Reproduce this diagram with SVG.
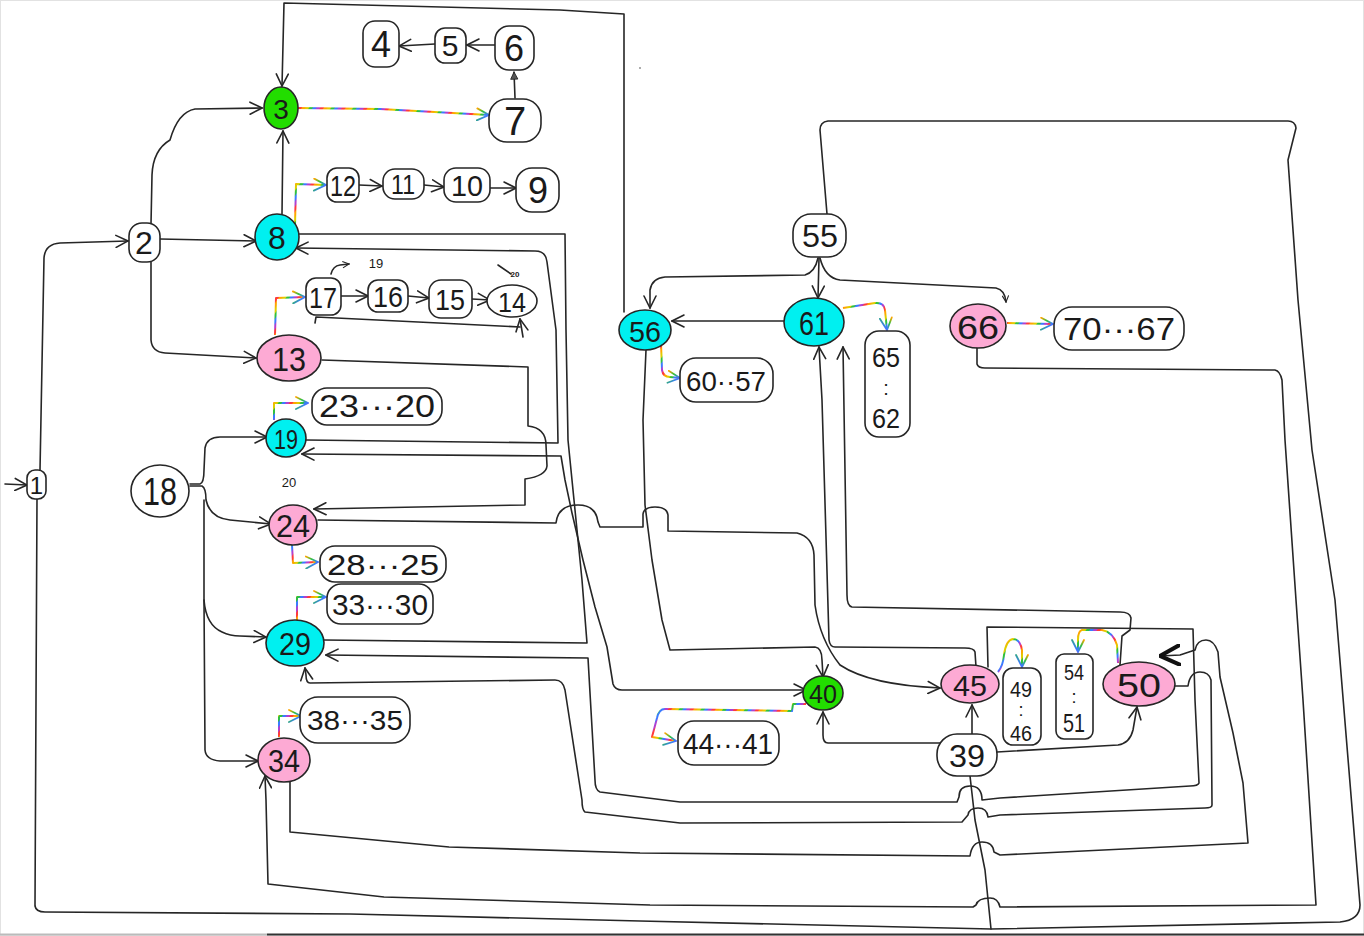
<svg xmlns="http://www.w3.org/2000/svg" width="1364" height="936" viewBox="0 0 1364 936">
<defs>
<style>
.c{fill:none;stroke:#262626;stroke-width:1.6;stroke-linejoin:round;stroke-linecap:round}
.a{marker-end:url(#ar)}
.ab{marker-start:url(#ar);marker-end:url(#ar)}
.rb{fill:none;stroke:url(#rain);stroke-width:2;stroke-linejoin:round;marker-end:url(#arr)}
.n{fill:#fff;stroke:#262626;stroke-width:1.6}
.g{fill:#22dd00}
.cy{fill:#00f0f0}
.pk{fill:#fdaad4}
text{font-family:"Liberation Sans",Arial,sans-serif;fill:#1a1a1a;text-anchor:middle;dominant-baseline:central}
</style>
<pattern id="rain" patternUnits="userSpaceOnUse" width="18" height="18" patternTransform="rotate(35)">
<rect x="0" y="0" width="3" height="18" fill="#ff3b3b"/><rect x="3" y="0" width="3" height="18" fill="#ffa500"/><rect x="6" y="0" width="3" height="18" fill="#e0cc00"/><rect x="9" y="0" width="3" height="18" fill="#2fc040"/><rect x="12" y="0" width="3" height="18" fill="#3a7bff"/><rect x="15" y="0" width="3" height="18" fill="#b040d0"/>
</pattern>
<linearGradient id="rg" x1="0" y1="0" x2="1" y2="1">
<stop offset="0" stop-color="#ffa500"/><stop offset="0.35" stop-color="#2fc040"/><stop offset="0.7" stop-color="#3a7bff"/><stop offset="1" stop-color="#b040d0"/>
</linearGradient>
<marker id="ar" viewBox="0 0 14 14" refX="13" refY="7" markerWidth="14" markerHeight="14" markerUnits="userSpaceOnUse" orient="auto-start-reverse"><path d="M1,1 L13,7 L1,13" fill="none" stroke="#262626" stroke-width="1.6" stroke-linecap="round"/></marker>
<marker id="arr" viewBox="0 0 14 14" refX="13" refY="7" markerWidth="14" markerHeight="14" markerUnits="userSpaceOnUse" orient="auto"><path d="M1,1 L13,7 L1,13" fill="none" stroke="url(#rg)" stroke-width="1.8" stroke-linecap="round"/></marker>
<marker id="arf" viewBox="0 0 10 10" refX="9" refY="5" markerWidth="9" markerHeight="9" markerUnits="userSpaceOnUse" orient="auto"><path d="M1,1 L9,5 L1,9 Z" fill="#555" stroke="#262626" stroke-width="1"/></marker>
<marker id="arb" viewBox="0 0 16 16" refX="15" refY="8" markerWidth="22" markerHeight="22" markerUnits="userSpaceOnUse" orient="auto"><path d="M1,1 L15,8 L1,15" fill="none" stroke="#111" stroke-width="3" stroke-linecap="round"/></marker>
<marker id="ars" viewBox="0 0 10 10" refX="9" refY="5" markerWidth="8" markerHeight="8" markerUnits="userSpaceOnUse" orient="auto"><path d="M1,1 L9,5 L1,9" fill="none" stroke="#262626" stroke-width="1.4"/></marker>
</defs>
<rect x="0.5" y="0.5" width="1363" height="935" fill="#fff" stroke="#e2e2e2"/>
<line x1="267" y1="934.5" x2="1364" y2="934.5" stroke="#333" stroke-width="2"/>
<line x1="0" y1="934.5" x2="267" y2="934.5" stroke="#bbb" stroke-width="2"/>

<g id="connectors">
<path class="c a" d="M5,484 L27,485"/>
<path class="c a" d="M40,470 L44,258 Q45,244 60,243 L128,241"/>
<path class="c" d="M37,498 L35,906 Q36,912 45,912 L350,914 L640,921 L991,929 L1340,922 Q1360,920 1360,905 L1335,600 L1312,450 L1298,300 L1288,160 L1296,128 Q1295,121 1288,121 L828,121 Q820,122 820,130 L827,214"/>
<path class="c a" d="M151,224 L152,175 Q153,150 170,140 Q178,112 195,109 L262,108"/>
<path class="c a" d="M160,239 L256,241"/>
<path class="c a" d="M151,262 L151,340 Q152,352 165,353 L256,358"/>
<path class="c a" d="M282,214 L283,131"/>
<path class="c a" d="M624,312 L624,14 L560,10 L284,3 L282,86"/>
<path class="rb" d="M297,108 L380,109 L489,115"/>
<path class="c" d="M515,98 L514,72" marker-end="url(#arf)"/>
<path class="c a" d="M497,45 L467,45"/>
<path class="c a" d="M435,44 L399,46"/>
<path class="rb" d="M295,225 L296,184 L326,185"/>
<path class="c a" d="M359,185 L382,186"/>
<path class="c a" d="M424,185 L444,187"/>
<path class="c a" d="M490,188 L516,188"/>
<path class="rb" d="M275,335 L276,298 L305,297"/>
<path class="c a" d="M341,296 L368,296"/>
<path class="c a" d="M408,296 L429,298"/>
<path class="c a" d="M472,299 L490,300"/>
<path class="c" d="M315,323 L316,317 L520,327"/>
<path class="c a" d="M523,337 L520,319"/>
<path class="c" d="M331,274 Q333,266 340,265 L349,264" marker-end="url(#ars)"/>
<path class="c" d="M498,265 L511,274"/>
<path class="c" d="M298,234 L565,234 L566,330 L568,440 L575,510 L582,580 L587,643 L324,640"/>
<path class="c a" d="M306,440 L558,443 L556,330 L547,262 Q546,251 535,251 L296,248"/>
<path class="c ab" d="M302,454 L561,456 L565,480 L572,513 L583,560 L595,607 L607,647 L613,684 Q615,690 622,690 L806,690"/>
<path class="c a" d="M322,360 L528,367 L528,426 Q546,428 546,445 L547,466 Q546,476 525,479 L525,505 L314,509"/>
<path class="c a" d="M318,520 L556,523 Q558,505 578,505 Q596,505 598,522 L600,527 L643,527 L643,514 Q644,507 655,507 Q667,507 668,515 L668,531 L797,533 Q813,537 814,555 L815,605 Q820,640 840,665 Q870,685 940,688"/>
<path class="c a" d="M646,350 L643,420 L645,505 L652,560 L662,620 L670,650 L815,647 Q822,648 822,660 L823,677"/>
<path class="c a" d="M976,667 L975,652 Q974,648 965,648 L835,647 Q830,647 829,640 L822,400 L819,347"/>
<path class="c a" d="M1120,665 L1122,636 L1130,630 L1131,618 Q1130,612 1120,612 L852,607 Q847,606 847,595 L843,347"/>
<path class="c a" d="M988,667 L987,627 L1193,629 L1195,700 L1199,783 Q1198,786 1190,786 L1000,798 L982,800 Q982,786 970,786 Q959,786 959,797 L957,802 L680,802 L600,792 Q595,790 595,780 L588,658 L326,655"/>
<path class="c a" d="M1174,686 L1188,686 Q1190,672 1200,672 Q1209,672 1211,680 L1212,805 Q1212,808 1205,808 L1000,815 L988,817 Q987,808 978,808 Q969,808 968,815 L962,822 L680,823 L585,812 Q582,810 582,800 L565,690 Q563,680 555,680 L310,683 Q306,683 306,675 L305,668"/>
<path class="c" d="M290,782 L290,832 L449,847 L640,853 L970,856 Q972,842 982,842 Q993,842 994,852 L1000,855 L1248,843 L1243,783 L1233,733 L1220,677 L1218,652 Q1214,640 1206,640 Q1197,640 1195,650 L1180,655 L1160,656" marker-end="url(#arb)"/>
<path class="c a" d="M977,347 L977,364 Q978,368 985,368 L1275,370 Q1280,371 1282,380 L1285,440 L1296,600 L1303,700 L1316,905 L1000,907 Q998,898 990,898 Q978,898 976,905 L973,907 L650,905 L384,897 L268,884 L266,800 L265,776"/>
<path class="c" d="M970,776 L975,820 L985,870 L991,929"/>
<path class="c a" d="M940,743 L828,743 Q823,743 823,735 L823,712"/>
<path class="c a" d="M972,735 L972,705"/>
<path class="c a" d="M997,752 L1118,745 Q1130,743 1133,730 L1137,707"/>
<path class="rb" d="M806,704 L793,704 L792,711 L665,709 Q659,709 657,718 L652,737 L676,741"/>
<path class="rb" d="M998,672 Q1003,666 1004,655 Q1006,640 1013,639 Q1020,639 1022,650 L1022,667"/>
<path class="rb" d="M1118,663 L1117,645 Q1113,632 1102,630 L1082,630 Q1078,631 1078,640 L1078,652"/>
<path class="c a" d="M818,258 Q815,272 805,275 L665,277 Q652,278 650,290 L650,308"/>
<path class="c a" d="M819,258 L818,298"/>
<path class="c" d="M820,258 Q825,278 840,280 L996,288 Q1005,290 1006,302" marker-end="url(#ars)"/>
<path class="c a" d="M785,321 L672,321"/>
<path class="rb" d="M843,308 L875,303 Q884,302 885,310 L887,330"/>
<path class="rb" d="M661,343 L662,370 Q663,377 670,377 L680,378"/>
<path class="rb" d="M1007,323 L1053,324"/>
<path class="c a" d="M190,484 L200,484 Q204,483 204,470 L205,448 Q207,437 220,437 L267,437"/>
<path class="c a" d="M190,486 L202,486 Q206,488 206,500 Q210,518 230,520 L271,524"/>
<path class="c a" d="M204,500 L204,600 Q206,625 222,632 Q230,636 240,636 L266,637"/>
<path class="c a" d="M204,600 L205,750 Q206,760 220,761 L258,761"/>
<path class="rb" d="M274,420 L274,403 L308,403"/>
<path class="rb" d="M292,545 L293,563 L318,562"/>
<path class="rb" d="M297,620 L297,597 L326,597"/>
<path class="rb" d="M279,737 L279,716 L301,716"/>
</g>

<g id="n1"><rect class="n" x="27" y="470" width="19" height="29" rx="8"/><text x="36.5" y="485" font-size="24">1</text></g>
<g id="n2"><rect class="n" x="129" y="223" width="31" height="39" rx="13"/><text x="144" y="243" font-size="32">2</text></g>
<g id="n3"><ellipse class="n g" cx="281" cy="108" rx="17" ry="21"/><text x="281" y="109" font-size="28">3</text></g>
<g id="n4"><rect class="n" x="363" y="21" width="36" height="46" rx="12"/><text x="381" y="44" font-size="36">4</text></g>
<g id="n5"><rect class="n" x="435" y="28" width="31" height="35" rx="10"/><text x="450" y="45" font-size="30">5</text></g>
<g id="n6"><rect class="n" x="495" y="26" width="39" height="44" rx="14"/><text x="514" y="48" font-size="36">6</text></g>
<g id="n7"><rect class="n" x="489" y="99" width="52" height="43" rx="18"/><text x="515" y="121" font-size="40">7</text></g>
<g id="n8"><ellipse class="n cy" cx="277" cy="237" rx="22" ry="23"/><text x="277" y="238" font-size="32">8</text></g>
<g id="n12"><rect class="n" x="327" y="168" width="32" height="34" rx="10"/><text x="343" y="185" font-size="30" textLength="26" lengthAdjust="spacingAndGlyphs">12</text></g>
<g id="n11"><rect class="n" x="383" y="169" width="41" height="30" rx="12"/><text x="403" y="184" font-size="28" textLength="24" lengthAdjust="spacingAndGlyphs">11</text></g>
<g id="n10"><rect class="n" x="444" y="168" width="46" height="34" rx="12"/><text x="467" y="185" font-size="30" textLength="32" lengthAdjust="spacingAndGlyphs">10</text></g>
<g id="n9"><rect class="n" x="516" y="168" width="43" height="44" rx="16"/><text x="538" y="190" font-size="36">9</text></g>
<g id="n17"><rect class="n" x="306" y="278" width="35" height="37" rx="10"/><text x="323" y="297" font-size="30" textLength="28" lengthAdjust="spacingAndGlyphs">17</text></g>
<g id="n16"><rect class="n" x="368" y="280" width="40" height="32" rx="10"/><text x="388" y="296" font-size="30" textLength="30" lengthAdjust="spacingAndGlyphs">16</text></g>
<g id="n15"><rect class="n" x="429" y="280" width="43" height="38" rx="12"/><text x="450" y="299" font-size="30" textLength="30" lengthAdjust="spacingAndGlyphs">15</text></g>
<g id="n14"><ellipse class="n" cx="512" cy="301" rx="25" ry="16"/><text x="512" y="302" font-size="28" textLength="28" lengthAdjust="spacingAndGlyphs">14</text></g>
<g id="n13"><ellipse class="n pk" cx="289" cy="358" rx="32" ry="23"/><text x="289" y="359" font-size="34" textLength="34" lengthAdjust="spacingAndGlyphs">13</text></g>
<g id="n23_20"><rect class="n" x="312" y="388" width="130" height="37" rx="15"/><text x="377" y="406" font-size="32" textLength="116" lengthAdjust="spacingAndGlyphs">23···20</text></g>
<g id="n19"><ellipse class="n cy" cx="286" cy="438" rx="20" ry="19"/><text x="286" y="439" font-size="28" textLength="24" lengthAdjust="spacingAndGlyphs">19</text></g>
<g id="n18"><ellipse class="n" cx="160" cy="491" rx="29" ry="26"/><text x="160" y="492" font-size="38" textLength="34" lengthAdjust="spacingAndGlyphs">18</text></g>
<g id="n24"><ellipse class="n pk" cx="293" cy="525" rx="24" ry="20"/><text x="293" y="526" font-size="32" textLength="34" lengthAdjust="spacingAndGlyphs">24</text></g>
<g id="n28_25"><rect class="n" x="320" y="546" width="126" height="36" rx="15"/><text x="383" y="564" font-size="30" textLength="112" lengthAdjust="spacingAndGlyphs">28···25</text></g>
<g id="n33_30"><rect class="n" x="327" y="584" width="106" height="40" rx="14"/><text x="380" y="604" font-size="30" textLength="96" lengthAdjust="spacingAndGlyphs">33···30</text></g>
<g id="n29"><ellipse class="n cy" cx="295" cy="643" rx="29" ry="23"/><text x="295" y="644" font-size="32" textLength="32" lengthAdjust="spacingAndGlyphs">29</text></g>
<g id="n38_35"><rect class="n" x="300" y="697" width="110" height="46" rx="18"/><text x="355" y="720" font-size="28" textLength="96" lengthAdjust="spacingAndGlyphs">38···35</text></g>
<g id="n34"><ellipse class="n pk" cx="284" cy="760" rx="26" ry="22"/><text x="284" y="761" font-size="32" textLength="32" lengthAdjust="spacingAndGlyphs">34</text></g>
<g id="n55"><rect class="n" x="793" y="214" width="53" height="43" rx="18"/><text x="820" y="236" font-size="32" textLength="36" lengthAdjust="spacingAndGlyphs">55</text></g>
<g id="n56"><ellipse class="n cy" cx="645" cy="330" rx="26" ry="20"/><text x="645" y="331" font-size="30" textLength="32" lengthAdjust="spacingAndGlyphs">56</text></g>
<g id="n61"><ellipse class="n cy" cx="814" cy="322" rx="30" ry="24"/><text x="814" y="323" font-size="34" textLength="30" lengthAdjust="spacingAndGlyphs">61</text></g>
<g id="n66"><ellipse class="n pk" cx="978" cy="326" rx="28" ry="22"/><text x="978" y="327" font-size="34" textLength="42" lengthAdjust="spacingAndGlyphs">66</text></g>
<g id="n70_67"><rect class="n" x="1054" y="307" width="130" height="43" rx="18"/><text x="1119" y="329" font-size="32" textLength="112" lengthAdjust="spacingAndGlyphs">70···67</text></g>
<g id="n60_57"><rect class="n" x="680" y="358" width="93" height="44" rx="16"/><text x="726" y="381" font-size="28" textLength="80" lengthAdjust="spacingAndGlyphs">60··57</text></g>
<g id="n65_62"><rect class="n" x="865" y="331" width="45" height="106" rx="14"/><text x="886" y="357" font-size="28" textLength="28" lengthAdjust="spacingAndGlyphs">65</text><text x="886" y="388" font-size="20">:</text><text x="886" y="418" font-size="28" textLength="28" lengthAdjust="spacingAndGlyphs">62</text></g>
<g id="n40"><ellipse class="n g" cx="823" cy="693" rx="20" ry="17"/><text x="823" y="694" font-size="26" textLength="28" lengthAdjust="spacingAndGlyphs">40</text></g>
<g id="n44_41"><rect class="n" x="678" y="721" width="101" height="44" rx="16"/><text x="728" y="743" font-size="30" textLength="90" lengthAdjust="spacingAndGlyphs">44···41</text></g>
<g id="n45"><ellipse class="n pk" cx="970" cy="684" rx="29" ry="19"/><text x="970" y="685" font-size="30" textLength="34" lengthAdjust="spacingAndGlyphs">45</text></g>
<g id="n49_46"><rect class="n" x="1003" y="668" width="38" height="77" rx="10"/><text x="1021" y="689" font-size="22" textLength="22" lengthAdjust="spacingAndGlyphs">49</text><text x="1021" y="710" font-size="18">:</text><text x="1021" y="733" font-size="22" textLength="22" lengthAdjust="spacingAndGlyphs">46</text></g>
<g id="n54_51"><rect class="n" x="1056" y="654" width="37" height="85" rx="8"/><text x="1074" y="672" font-size="22" textLength="20" lengthAdjust="spacingAndGlyphs">54</text><text x="1074" y="697" font-size="18">:</text><text x="1074" y="723" font-size="26" textLength="22" lengthAdjust="spacingAndGlyphs">51</text></g>
<g id="n50"><ellipse class="n pk" cx="1139" cy="684" rx="36" ry="22"/><text x="1139" y="685" font-size="34" textLength="44" lengthAdjust="spacingAndGlyphs">50</text></g>
<g id="n39"><rect class="n" x="937" y="734" width="60" height="42" rx="20"/><text x="967" y="756" font-size="32" textLength="36" lengthAdjust="spacingAndGlyphs">39</text></g>

<g id="notes">
<text x="376" y="263" font-size="13">19</text>
<text x="289" y="482" font-size="13">20</text>
<text x="515" y="274" font-size="8" font-weight="bold">20</text>
<circle cx="640" cy="68" r="0.8" fill="#444"/>
</g>
</svg>
